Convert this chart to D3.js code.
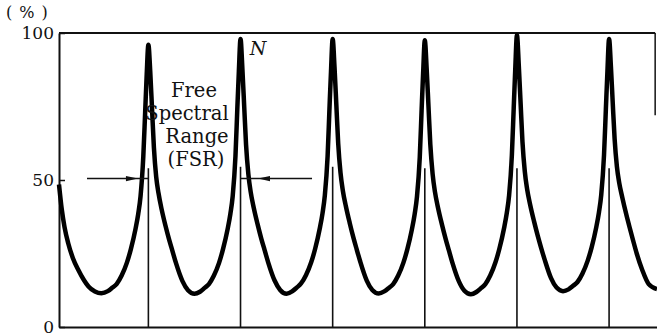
<!DOCTYPE html>
<html>
<head>
<meta charset="utf-8">
<script src="https://cdn.jsdelivr.net/npm/d3@7"></script>
<style>
  body { margin: 0; background: #fff; }
  svg { display: block; }
  .axis text { font-family: "DejaVu Serif", serif; font-size: 17px; fill: #111; }
  .label { font-family: "DejaVu Serif", serif; fill: #111; }
</style>
</head>
<body>
<div id="chart"></div>
<script>
// tick labels on the % axis
const yTicks = [0, 50, 100];

// peak orders (x in units of one free spectral range) and the height of the marker line under each
const peakOrders = [1, 2, 3, 4, 5, 6];
const peakLineTops = [54, 54.5, 54.5, 54, 54, 54];

// transmission curve, [order, %]
const curve = [
  [0.03, 48.5], [0.06, 40], [0.09, 34], [0.13, 28.5], [0.18, 23.5], [0.24, 19.4], [0.30, 16], [0.35, 13.8], [0.42, 12.1], [0.49, 11.5],
  [0.56, 12.2], [0.61, 13.4], [0.657, 14.7], [0.71, 17.5], [0.767, 21.9], [0.81, 26.5], [0.86, 33.3], [0.89, 38.5], [0.915, 44.5], [0.945, 58], [0.965, 73], [0.982, 86], [1.00, 96],
  [1.02, 87], [1.04, 74], [1.06, 61], [1.085, 51], [1.11, 45.5], [1.144, 40], [1.185, 34.5], [1.226, 29.6], [1.26, 26], [1.30, 21.7], [1.37, 15.6], [1.43, 12.5], [1.50, 11.3],
  [1.56, 12], [1.61, 13.3], [1.657, 14.6], [1.71, 17.4], [1.767, 21.8], [1.81, 26.5], [1.86, 33.3], [1.89, 38.5], [1.915, 44.5], [1.945, 58], [1.965, 74], [1.982, 87], [2.00, 98],
  [2.02, 88], [2.04, 75], [2.06, 62], [2.085, 52], [2.11, 46], [2.144, 40.5], [2.185, 35], [2.226, 30], [2.26, 26.3], [2.30, 22], [2.37, 15.8], [2.43, 12.6], [2.50, 11.3],
  [2.56, 12.1], [2.61, 13.4], [2.657, 14.8], [2.71, 17.6], [2.767, 22], [2.81, 26.6], [2.86, 33.5], [2.89, 38.7], [2.915, 44.7], [2.945, 58], [2.965, 74], [2.982, 87], [3.00, 98],
  [3.02, 88.5], [3.04, 75.5], [3.06, 62.5], [3.085, 52.5], [3.11, 46.5], [3.144, 41], [3.185, 35.4], [3.226, 30.3], [3.26, 26.5], [3.30, 22.2], [3.37, 15.8], [3.43, 12.6], [3.50, 11.4],
  [3.56, 12.1], [3.61, 13.3], [3.657, 14.6], [3.71, 17.4], [3.767, 21.8], [3.81, 26.4], [3.86, 33.2], [3.89, 38.4], [3.915, 44.3], [3.945, 57.5], [3.965, 73.5], [3.982, 86.5], [4.00, 97.5],
  [4.02, 88], [4.04, 75], [4.06, 62], [4.085, 52], [4.11, 46], [4.144, 40.5], [4.185, 35], [4.226, 30], [4.26, 26.2], [4.30, 21.8], [4.37, 15.5], [4.43, 12.3], [4.50, 11.1],
  [4.56, 11.9], [4.61, 13.2], [4.657, 14.6], [4.71, 17.5], [4.767, 22], [4.81, 26.7], [4.86, 33.6], [4.89, 38.8], [4.915, 44.8], [4.945, 58.5], [4.965, 74.5], [4.982, 88], [5.00, 99.3],
  [5.02, 89], [5.04, 76], [5.06, 63], [5.085, 53], [5.11, 47], [5.144, 41.5], [5.185, 36], [5.226, 31], [5.26, 27.2], [5.30, 23], [5.37, 16.6], [5.43, 13.4], [5.50, 12.2],
  [5.56, 12.8], [5.61, 14], [5.657, 15.3], [5.71, 18.1], [5.767, 22.5], [5.81, 27], [5.86, 33.8], [5.89, 39], [5.915, 45], [5.945, 58.5], [5.965, 74], [5.982, 87], [6.00, 98],
  [6.02, 88.5], [6.04, 76], [6.06, 64], [6.085, 54.5], [6.11, 49], [6.144, 44], [6.185, 38.5], [6.226, 33.5], [6.26, 29.5], [6.30, 25], [6.36, 19.4], [6.43, 14.6], [6.52, 12.9]
];

// FSR annotation
const fsrLines = ["Free", "Spectral", "Range", "(FSR)"];
const fsrShift = [0, -7, 3, 2];
const arrows = [
  { from: 0.334, tip: 0.887, to: 1.0 },
  { from: 2.776, tip: 2.19, to: 2.0 }
];
const arrowLevel = 50.5;

const width = 657, height = 336;

const svg = d3.select("#chart").append("svg")
  .attr("width", width)
  .attr("height", height);

const x = d3.scaleLinear().domain([0.03, 6.52]).range([59, 657]);
const y = d3.scaleLinear().domain([0, 100]).range([327, 33]);

// axes
const yAxis = svg.append("g")
  .attr("class", "axis")
  .attr("transform", "translate(" + x(0.03) + ",0)")
  .call(d3.axisLeft(y).tickValues(yTicks).tickSize(-6).tickSizeOuter(0).tickPadding(5));
yAxis.select(".domain").attr("stroke", "#111").attr("stroke-width", 2);
yAxis.selectAll(".tick line").attr("stroke", "#111").attr("stroke-width", 1.5);

const xAxis = svg.append("g")
  .attr("class", "axis")
  .attr("transform", "translate(0," + y(0) + ")")
  .call(d3.axisBottom(x).tickValues([]).tickSizeOuter(0));
xAxis.select(".domain").attr("stroke", "#111").attr("stroke-width", 2);

// top frame and the short piece of the right frame
svg.append("line")
  .attr("x1", x(0.03)).attr("x2", x(6.5))
  .attr("y1", y(100)).attr("y2", y(100))
  .attr("stroke", "#111").attr("stroke-width", 2);
svg.append("line")
  .attr("x1", x(6.5)).attr("x2", x(6.5))
  .attr("y1", y(100)).attr("y2", y(72))
  .attr("stroke", "#111").attr("stroke-width", 1.5);

svg.append("text")
  .attr("class", "label")
  .attr("x", 6).attr("y", 18)
  .attr("font-size", 16)
  .attr("letter-spacing", 7)
  .text("(%)");

// marker lines under each peak
svg.selectAll(".peakline")
  .data(peakOrders)
  .enter().append("line")
  .attr("class", "peakline")
  .attr("x1", d => x(d)).attr("x2", d => x(d))
  .attr("y1", y(0)).attr("y2", (d, i) => y(peakLineTops[i]))
  .attr("stroke", "#111").attr("stroke-width", 1.6);

// the transmission curve
const line = d3.line()
  .x(d => x(d[0]))
  .y(d => y(d[1]))
  .curve(d3.curveMonotoneX);

svg.append("path")
  .datum(curve)
  .attr("d", line)
  .attr("fill", "none")
  .attr("stroke", "#000")
  .attr("stroke-width", 4.5)
  .attr("stroke-linejoin", "round");

// FSR arrows
arrows.forEach(a => {
  const dir = a.tip > a.from ? 1 : -1;
  const yy = y(arrowLevel);
  svg.append("line")
    .attr("x1", x(a.from)).attr("x2", x(a.to))
    .attr("y1", yy).attr("y2", yy)
    .attr("stroke", "#111").attr("stroke-width", 1.4);
  const tx = x(a.tip);
  svg.append("path")
    .attr("d", d3.line()([[tx, yy], [tx - dir * 12, yy - 2.6], [tx - dir * 12, yy + 2.6]]) + "Z")
    .attr("fill", "#111");
});

svg.append("g")
  .selectAll("text")
  .data(fsrLines)
  .enter().append("text")
  .attr("class", "label")
  .attr("font-size", 19.5)
  .attr("text-anchor", "middle")
  .attr("x", (d, i) => x(1.495) + fsrShift[i])
  .attr("y", (d, i) => y(78.2) + i * 23)
  .text(d => d);

svg.append("text")
  .attr("class", "label")
  .attr("x", x(2.1)).attr("y", y(92.5))
  .attr("font-size", 19)
  .attr("font-style", "italic")
  .text("N");
</script>
</body>
</html>
